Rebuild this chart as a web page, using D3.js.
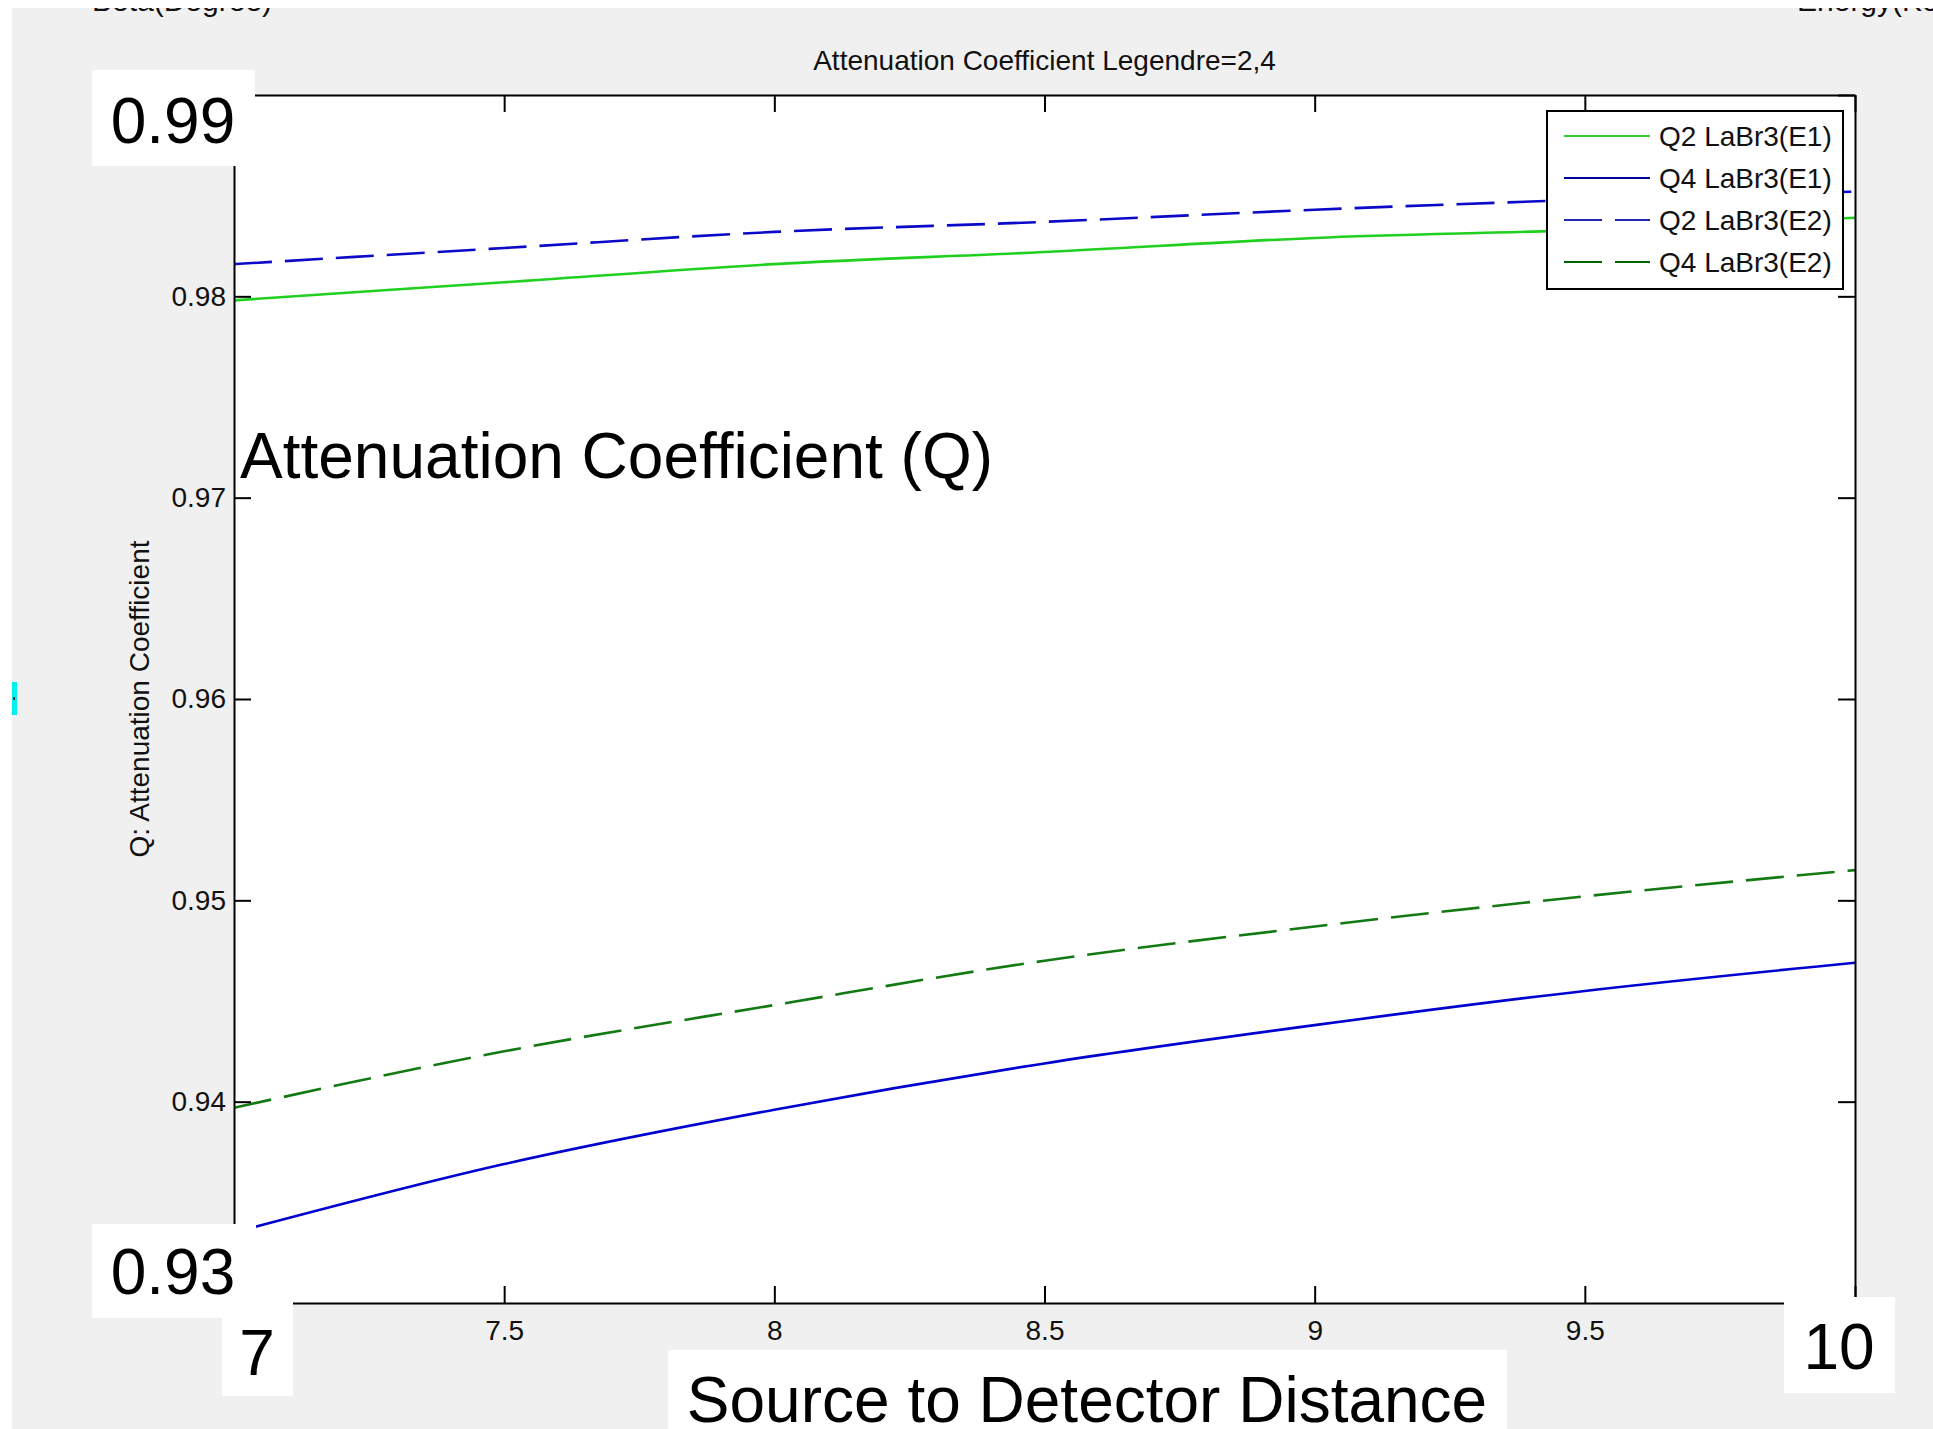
<!DOCTYPE html>
<html>
<head>
<meta charset="utf-8">
<script src="https://cdn.jsdelivr.net/npm/d3@7"></script>
<style>
  html, body { margin: 0; padding: 0; background: #ffffff; }
  svg { display: block; }
  text { font-family: "Liberation Sans", Arial, sans-serif; }
</style>
</head>
<body>
<script>
// ---------- data ----------
const distances = [7, 7.5, 8, 8.5, 9, 9.5, 10];
const q2E1 = [0.9798, 0.9807, 0.9816, 0.9822, 0.9829, 0.9833, 0.9839];
const q4E1 = [0.9335, 0.9369, 0.9396, 0.9419, 0.9438, 0.9455, 0.9469];
const q2E2 = [0.9816, 0.9824, 0.9832, 0.9837, 0.9843, 0.9848, 0.9852];
const q4E2 = [0.9397, 0.9425, 0.9448, 0.9470, 0.9487, 0.9502, 0.9515];
const seriesNames = ["Q2 LaBr3(E1)", "Q4 LaBr3(E1)", "Q2 LaBr3(E2)", "Q4 LaBr3(E2)"];
const xTicks = [7, 7.5, 8, 8.5, 9, 9.5, 10];
const yTicks = [0.93, 0.94, 0.95, 0.96, 0.97, 0.98, 0.99];
const titleText = "Attenuation Coefficient Legendre=2,4";
const yLabelText = "Q: Attenuation Coefficient";

// ---------- layout ----------
const W = 1933, H = 1429;
const plot = { left: 234, right: 1855, top: 95, bottom: 1303 };

const svg = d3.select("body").append("svg").attr("width", W).attr("height", H);

svg.append("rect").attr("x", 0).attr("y", 0).attr("width", W).attr("height", H).attr("fill", "#ffffff");
svg.append("rect").attr("x", 12).attr("y", 8).attr("width", W - 12).attr("height", H - 8).attr("fill", "#f0f0f0");

// cut-off texts at very top (only their lower edge shows)
svg.append("text").attr("x", 92).attr("y", 11).attr("font-size", 30).attr("fill", "#111").text("Beta(Degree)");
svg.append("text").attr("x", 1797).attr("y", 11).attr("font-size", 30).attr("fill", "#111").text("Energy(KeV)");
svg.append("rect").attr("x", 0).attr("y", 0).attr("width", W).attr("height", 8).attr("fill", "#ffffff");

// small cyan marker at left edge
svg.append("rect").attr("x", 12).attr("y", 682).attr("width", 5).attr("height", 33).attr("fill", "#00f0f0");
svg.append("rect").attr("x", 13).attr("y", 697).attr("width", 2).attr("height", 3).attr("fill", "#333");

// plot area
svg.append("rect").attr("x", plot.left).attr("y", plot.top)
  .attr("width", plot.right - plot.left).attr("height", plot.bottom - plot.top).attr("fill", "#ffffff");

const x = d3.scaleLinear().domain([7, 10]).range([plot.left, plot.right]);
const y = d3.scaleLinear().domain([0.93, 0.99]).range([plot.bottom, plot.top]);

svg.append("clipPath").attr("id", "clip").append("rect")
  .attr("x", plot.left).attr("y", plot.top).attr("width", plot.right - plot.left).attr("height", plot.bottom - plot.top);

const series = [
  { name: seriesNames[0], values: q2E1, color: "#1fd01f", legendColor: "#33cc33", dash: null },
  { name: seriesNames[1], values: q4E1, color: "#0000d0", legendColor: "#0000a0", dash: null },
  { name: seriesNames[2], values: q2E2, color: "#0a0ac8", legendColor: "#2626b4", dash: "38,13" },
  { name: seriesNames[3], values: q4E2, color: "#137a13", legendColor: "#006400", dash: "38,13" }
];

const line = d3.line()
  .x(d => x(d[0]))
  .y(d => y(d[1]))
  .curve(d3.curveMonotoneX);

const lg = svg.append("g").attr("clip-path", "url(#clip)");
series.forEach(s => {
  lg.append("path")
    .datum(distances.map((d, i) => [d, s.values[i]]))
    .attr("d", line)
    .attr("fill", "none")
    .attr("stroke", s.color)
    .attr("stroke-width", 2.6)
    .attr("stroke-dasharray", s.dash);
});

// axes (box with inward ticks); end labels are hidden behind the white boxes in the reference
const tickLen = 17;
const fontTick = 28;
const xEnds = [7, 10], yEnds = [0.93, 0.99];

const gLeft = svg.append("g").attr("transform", `translate(${plot.left},0)`)
  .call(d3.axisLeft(y).tickValues(yTicks)
    .tickFormat(d => yEnds.some(e => Math.abs(e - d) < 1e-9) ? "" : d3.format(".2f")(d))
    .tickSizeInner(-tickLen).tickSizeOuter(0).tickPadding(8));
const gBottom = svg.append("g").attr("transform", `translate(0,${plot.bottom})`)
  .call(d3.axisBottom(x).tickValues(xTicks)
    .tickFormat(d => xEnds.includes(d) ? "" : String(d))
    .tickSizeInner(-tickLen).tickSizeOuter(0).tickPadding(17));
const gTop = svg.append("g").attr("transform", `translate(0,${plot.top})`)
  .call(d3.axisTop(x).tickValues(xTicks).tickFormat("").tickSizeInner(-tickLen).tickSizeOuter(0));
const gRight = svg.append("g").attr("transform", `translate(${plot.right},0)`)
  .call(d3.axisRight(y).tickValues(yTicks).tickFormat("").tickSizeInner(-tickLen).tickSizeOuter(0));

[gLeft, gBottom, gTop, gRight].forEach(g => {
  g.select(".domain").attr("stroke", "#000").attr("stroke-width", 2);
  g.selectAll(".tick line").attr("stroke", "#000").attr("stroke-width", 2);
  g.selectAll(".tick text").attr("font-size", fontTick).attr("fill", "#111")
    .attr("font-family", "'Liberation Sans', Arial, sans-serif");
});

// title
svg.append("text").attr("x", (plot.left + plot.right) / 2).attr("y", 70)
  .attr("text-anchor", "middle").attr("font-size", 28).attr("fill", "#111").text(titleText);

// y label
svg.append("text").attr("transform", "translate(139,699) rotate(-90)")
  .attr("text-anchor", "middle").attr("dy", "0.35em").attr("font-size", 28).attr("fill", "#111").text(yLabelText);

// legend
const leg = svg.append("g");
leg.append("rect").attr("x", 1547).attr("y", 111).attr("width", 296).attr("height", 178)
  .attr("fill", "#ffffff").attr("stroke", "#000").attr("stroke-width", 2);
const rowY = d3.scalePoint().domain(seriesNames).range([136, 262]);
series.forEach(s => {
  const yy = rowY(s.name);
  leg.append("line").attr("x1", 1564).attr("x2", 1650).attr("y1", yy).attr("y2", yy)
    .attr("stroke", s.legendColor).attr("stroke-width", 1.8).attr("stroke-dasharray", s.dash);
  leg.append("text").attr("x", 1659).attr("y", yy).attr("dy", "0.36em")
    .attr("font-size", 28).attr("fill", "#111").text(s.name);
});

// overlay white boxes with big labels
const boxes = [
  { x: 92, y: 70, w: 163, h: 96 },
  { x: 92, y: 1224, w: 164, h: 94 },
  { x: 222, y: 1290, w: 71, h: 106 },
  { x: 1784, y: 1297, w: 111, h: 96 },
  { x: 668, y: 1350, w: 839, h: 79 }
];
boxes.forEach(b => svg.append("rect").attr("x", b.x).attr("y", b.y).attr("width", b.w).attr("height", b.h).attr("fill", "#ffffff"));

const bigFont = 64;
const bigLabels = [
  { t: "0.99", x: 173, y: 143, anchor: "middle" },
  { t: "0.93", x: 173, y: 1294, anchor: "middle" },
  { t: "7", x: 257, y: 1375, anchor: "middle" },
  { t: "10", x: 1839, y: 1369, anchor: "middle" },
  { t: "Source to Detector Distance", x: 1087, y: 1422, anchor: "middle" },
  { t: "Attenuation Coefficient (Q)", x: 240, y: 478, anchor: "start" }
];
bigLabels.forEach(l => svg.append("text").attr("x", l.x).attr("y", l.y).attr("text-anchor", l.anchor)
  .attr("font-size", bigFont).attr("fill", "#000").text(l.t));
</script>
</body>
</html>
